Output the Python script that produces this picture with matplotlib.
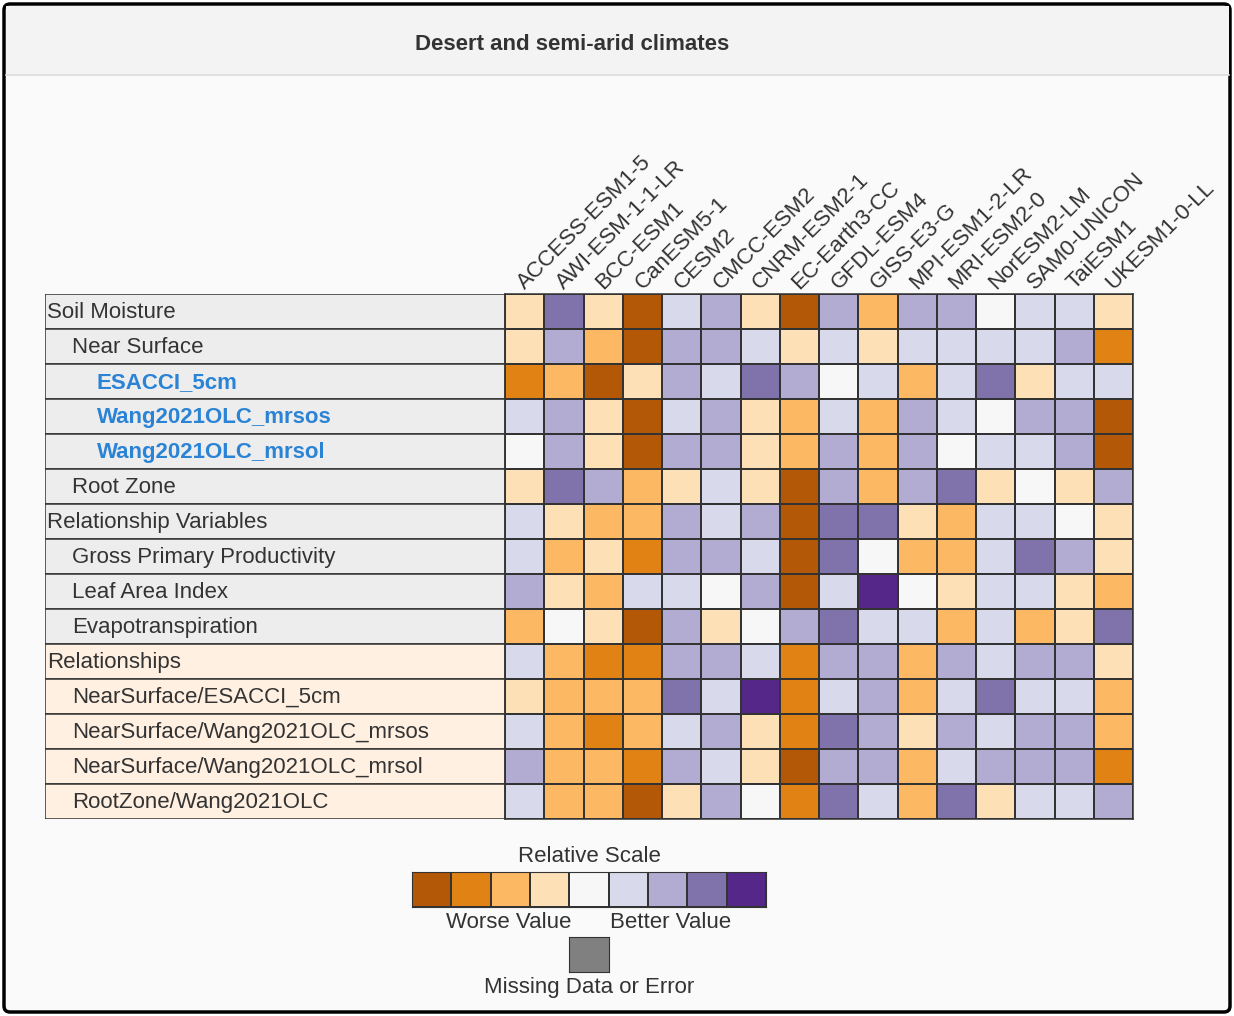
import numpy as np
import matplotlib.pyplot as plt
from matplotlib.colors import ListedColormap, BoundaryNorm
from matplotlib.patches import FancyBboxPatch, Rectangle

plt.rcParams['font.family'] = ['Liberation Sans', 'DejaVu Sans']

# Modèles (colonnes) et variables (lignes)
models = ["ACCESS-ESM1-5", "AWI-ESM-1-1-LR", "BCC-ESM1", "CanESM5-1", "CESM2",
          "CMCC-ESM2", "CNRM-ESM2-1", "EC-Earth3-CC", "GFDL-ESM4", "GISS-E3-G",
          "MPI-ESM1-2-LR", "MRI-ESM2-0", "NorESM2-LM", "SAM0-UNICON", "TaiESM1",
          "UKESM1-0-LL"]
rows = ["Soil Moisture", "Near Surface", "ESACCI_5cm", "Wang2021OLC_mrsos",
        "Wang2021OLC_mrsol", "Root Zone", "Relationship Variables",
        "Gross Primary Productivity", "Leaf Area Index", "Evapotranspiration",
        "Relationships", "NearSurface/ESACCI_5cm", "NearSurface/Wang2021OLC_mrsos",
        "NearSurface/Wang2021OLC_mrsol", "RootZone/Wang2021OLC"]
indent = [0, 1, 2, 2, 2, 1, 0, 1, 1, 1, 0, 1, 1, 1, 1]
group = [0] * 10 + [1] * 5

# Score relatif (0 = pire, 8 = meilleur)
scores = np.array([
    [3, 7, 3, 0, 5, 6, 3, 0, 6, 2, 6, 6, 4, 5, 5, 3],
    [3, 6, 2, 0, 6, 6, 5, 3, 5, 3, 5, 5, 5, 5, 6, 1],
    [1, 2, 0, 3, 6, 5, 7, 6, 4, 5, 2, 5, 7, 3, 5, 5],
    [5, 6, 3, 0, 5, 6, 3, 2, 5, 2, 6, 5, 4, 6, 6, 0],
    [4, 6, 3, 0, 6, 6, 3, 2, 6, 2, 6, 4, 5, 5, 6, 0],
    [3, 7, 6, 2, 3, 5, 3, 0, 6, 2, 6, 7, 3, 4, 3, 6],
    [5, 3, 2, 2, 6, 5, 6, 0, 7, 7, 3, 2, 5, 5, 4, 3],
    [5, 2, 3, 1, 6, 6, 5, 0, 7, 4, 2, 2, 5, 7, 6, 3],
    [6, 3, 2, 5, 5, 4, 6, 0, 5, 8, 4, 3, 5, 5, 3, 2],
    [2, 4, 3, 0, 6, 3, 4, 6, 7, 5, 5, 2, 5, 2, 3, 7],
    [5, 2, 1, 1, 6, 6, 5, 1, 6, 6, 2, 6, 5, 6, 6, 3],
    [3, 2, 2, 2, 7, 5, 8, 1, 5, 6, 2, 5, 7, 5, 5, 2],
    [5, 2, 1, 2, 5, 6, 3, 1, 7, 6, 3, 6, 5, 6, 6, 2],
    [6, 2, 2, 1, 6, 5, 3, 0, 6, 6, 2, 5, 6, 6, 6, 1],
    [5, 2, 2, 0, 3, 6, 4, 1, 7, 5, 2, 7, 3, 5, 5, 6],
])

palette = ["#b35806", "#e08214", "#fdb863", "#fee0b6", "#f7f7f7",
           "#d8daeb", "#b2abd2", "#8073ac", "#542788"]
cmap = ListedColormap(palette)
norm = BoundaryNorm(np.arange(-0.5, 9.5), cmap.N)

W, H = 1234, 1016
FS = 16
fig = plt.figure(figsize=(W / 100, H / 100), dpi=100)


def box(x0, y0, x1, y1):
    return [x0 / W, 1 - y1 / H, (x1 - x0) / W, (y1 - y0) / H]


# fond, cadre et bandeau
bg = fig.add_axes([0, 0, 1, 1])
bg.set_xlim(0, W)
bg.set_ylim(H, 0)
bg.axis("off")
bg.add_patch(FancyBboxPatch((4, 4), W - 8, H - 8, boxstyle="round,pad=0,rounding_size=6",
                            facecolor="#fafafa", edgecolor="black", linewidth=2.5))
bg.add_patch(Rectangle((5.5, 5.5), W - 11, 69, facecolor="#f3f3f3", edgecolor="none"))
bg.plot([5.5, W - 5.5], [75, 75], color="#dddddd", linewidth=1.2)
bg.text(572, 45, "Desert and semi-arid climates", ha="center", va="center",
        fontsize=FS, fontweight="bold", color="#333333")

# Étiquettes des lignes
lax = fig.add_axes(box(45, 294, 505, 819))
lax.barh(np.arange(15) + 0.5, 1, height=1, left=0,
         color=["#ededed" if g == 0 else "#fff0e2" for g in group],
         edgecolor="#333333", linewidth=1.1)
lax.set_xlim(0, 1)
lax.set_ylim(15, 0)
lax.axis("off")
for i, name in enumerate(rows):
    x = (2 + 25 * indent[i]) / 460
    if indent[i] == 2:
        lax.text(x, i + 0.52, name, va="center", ha="left", fontsize=FS,
                 fontweight="bold", color="#2b83d6")
    else:
        lax.text(x, i + 0.52, name, va="center", ha="left", fontsize=FS,
                 color="#333333")

# Heatmap
ax = fig.add_axes(box(505, 294, 1133, 819))
ax.pcolormesh(np.arange(17), np.arange(16), scores, cmap=cmap, norm=norm,
              edgecolors="#333333", linewidth=1.1)
ax.set_xlim(0, 16)
ax.set_ylim(15, 0)
ax.set_xticks([])
ax.set_yticks([])
for s in ax.spines.values():
    s.set_color("#333333")
    s.set_linewidth(1.1)
for j, m in enumerate(models):
    ax.text(j + 0.5, -0.12, m, rotation=45, ha="left", va="baseline",
            rotation_mode="anchor", fontsize=FS, color="#333333")

# Légende
lg = fig.add_axes(box(412, 872, 766, 907))
lg.pcolormesh(np.arange(10), [0, 1], [np.arange(9)], cmap=cmap, norm=norm,
              edgecolors="#333333", linewidth=1.1)
lg.set_xlim(0, 9)
lg.set_ylim(0, 1)
lg.set_xticks([])
lg.set_yticks([])
for s in lg.spines.values():
    s.set_color("#333333")

mg = fig.add_axes(box(569, 937, 609, 972))
mg.set_facecolor("#808080")
mg.set_xticks([])
mg.set_yticks([])
for s in mg.spines.values():
    s.set_color("#333333")

bg.text(589, 857, "Relative Scale", ha="center", va="center", fontsize=FS, color="#333333")
bg.text(509, 922, "Worse Value", ha="center", va="center", fontsize=FS, color="#333333")
bg.text(671, 922, "Better Value", ha="center", va="center", fontsize=FS, color="#333333")
bg.text(589, 988, "Missing Data or Error", ha="center", va="center", fontsize=FS, color="#333333")

fig.savefig("out.png", dpi=100)
